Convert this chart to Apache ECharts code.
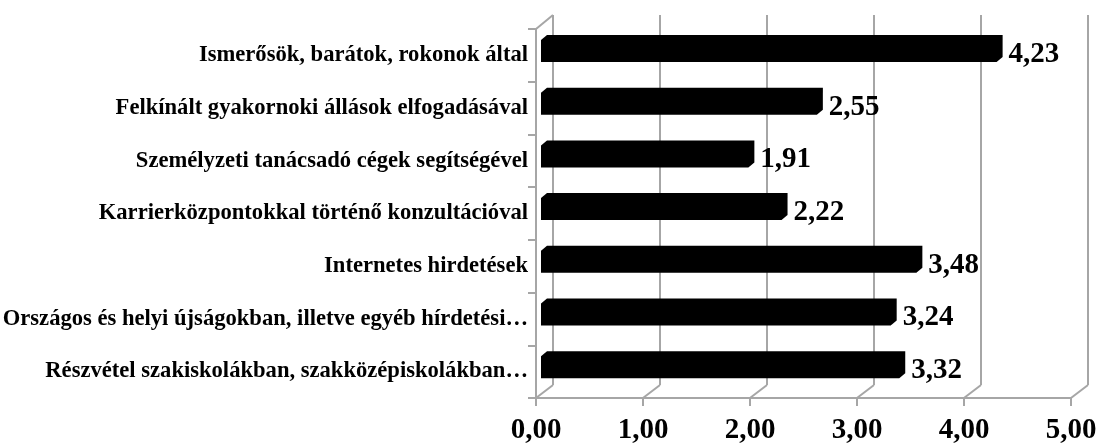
<!DOCTYPE html>
<html>
<head>
<meta charset="utf-8">
<script src="https://cdn.jsdelivr.net/npm/echarts@6/dist/echarts.min.js"></script>
<style>html,body{margin:0;padding:0;background:#fff}#c{width:1100px;height:445px}</style>
</head>
<body>
<div id="c"></div>
<script>
var categories = [
  'Ismerősök, barátok, rokonok által',
  'Felkínált gyakornoki állások elfogadásával',
  'Személyzeti tanácsadó cégek segítségével',
  'Karrierközpontokkal történő konzultációval',
  'Internetes hirdetések',
  'Országos és helyi újságokban, illetve egyéb hírdetési…',
  'Részvétel szakiskolákban, szakközépiskolákban…'
];
var values = [4.23, 2.55, 1.91, 2.22, 3.48, 3.24, 3.32];
var valueLabels = ['4,23', '2,55', '1,91', '2,22', '3,48', '3,24', '3,32'];
var tickValues = [0, 1, 2, 3, 4, 5];
var tickLabels = ['0,00', '1,00', '2,00', '3,00', '4,00', '5,00'];

var GRAY = '#a6a6a6';
var FONT = '"Liberation Serif", "Times New Roman", serif';
var DX = 17, DY = -14; // wall depth offset

var chart = echarts.init(document.getElementById('c'), null, {renderer: 'canvas'});

function wallItem(params, api) {
  var cs = params.coordSys;
  var v = api.value(0);
  var x = api.coord([v, 0])[0];
  var bottom = cs.y + cs.height;
  var children = [
    {type: 'line', shape: {x1: x + DX, y1: cs.y + DY, x2: x + DX, y2: bottom + DY + 1}, style: {stroke: GRAY, lineWidth: 2}},
    {type: 'line', shape: {x1: x, y1: bottom, x2: x + DX, y2: bottom + DY + 1}, style: {stroke: GRAY, lineWidth: 2}}
  ];
  if (params.dataIndex === 0) {
    children.push({type: 'line', shape: {x1: x, y1: cs.y, x2: x + DX, y2: cs.y + DY}, style: {stroke: GRAY, lineWidth: 2}});
  }
  return {type: 'group', children: children};
}

function barItem(params, api) {
  var idx = api.value(1);
  var v = api.value(0);
  var p0 = api.coord([0, idx]);
  var p1 = api.coord([v, idx]);
  var fx0 = p0[0] + 5, fx1 = p1[0] + 8;
  var fy0 = p0[1] - 15.4, fy1 = p0[1] + 6.6;
  var bx = 6, by = -5;
  return {
    type: 'group',
    children: [
      {type: 'polygon', shape: {points: [[fx0, fy0], [fx0 + bx, fy0 + by], [fx1 + bx, fy0 + by], [fx1 + bx, fy1 + by], [fx1, fy1], [fx0, fy1]]}, style: {fill: '#000'}},
      {type: 'text', x: fx1 + bx + 6, y: p0[1] - 1, style: {text: valueLabels[params.dataIndex], fill: '#000', font: 'bold 29px ' + FONT, verticalAlign: 'middle', align: 'left'}}
    ]
  };
}

chart.setOption({
  animation: false,
  backgroundColor: '#fff',
  grid: {left: 536, top: 29, width: 535, height: 369, containLabel: false, outerBoundsMode: 'none'},
  xAxis: {
    type: 'value', min: 0, max: 5, interval: 1,
    axisLine: {show: true, lineStyle: {color: GRAY, width: 2}},
    axisTick: {show: true, length: 8, lineStyle: {color: GRAY, width: 2}},
    splitLine: {show: false},
    axisLabel: {
      margin: 18, color: '#000', fontFamily: FONT, fontWeight: 'bold', fontSize: 29,
      formatter: function (v) { return tickLabels[tickValues.indexOf(Math.round(v))]; }
    }
  },
  yAxis: {
    type: 'category', data: categories, inverse: true,
    axisLine: {show: true, lineStyle: {color: GRAY, width: 2}},
    axisTick: {show: true, length: 8, lineStyle: {color: GRAY, width: 2}},
    splitLine: {show: false},
    axisLabel: {margin: 8, color: '#000', fontFamily: FONT, fontWeight: 'bold', fontSize: 22.6, padding: [3, 0, 0, 0]}
  },
  series: [
    {type: 'custom', renderItem: wallItem, data: tickValues.map(function (t) { return [t, 0]; }), silent: true, z: 1},
    {type: 'custom', renderItem: barItem, data: values.map(function (v, i) { return [v, i]; }), silent: true, z: 3}
  ]
});
</script>
</body>
</html>
